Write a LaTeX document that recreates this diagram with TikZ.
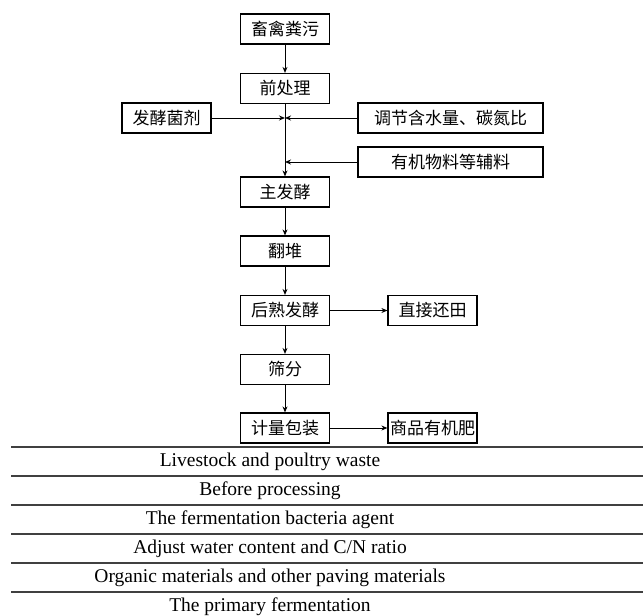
\documentclass[tikz,border=0pt]{standalone}
\usepackage{fontspec}
\setmainfont{Liberation Serif}
\newfontfamily\cjk{Noto Sans CJK SC}
\usetikzlibrary{arrows.meta}

\tikzset{
    boite/.style={draw, line width=1.2pt, minimum height=30pt, inner sep=0pt,
        font=\cjk\fontsize{17}{20}\selectfont},
    etroite/.style={boite, minimum width=89pt},
    large/.style={boite, minimum width=185pt},
    fleche/.style={line width=1pt, -{Stealth[length=6pt,width=5pt]}},
    rangee/.style={inner sep=0pt, font=\fontsize{19.5}{22}\selectfont}
}

\begin{document}
\begin{tikzpicture}[x=1pt,y=1pt]
    \useasboundingbox (0,0) rectangle (643,-616);

    % Définition des étapes
    \node[etroite] (P1) at (285,-29) {畜禽粪污};
    \node[etroite] (P2) at (285,-88.5) {前处理};
    \node[etroite] (P3) at (285,-192) {主发酵};
    \node[etroite] (P4) at (285,-251) {翻堆};
    \node[etroite] (P5) at (285,-310.5) {后熟发酵};
    \node[etroite] (P6) at (285,-369.5) {筛分};
    \node[etroite] (P7) at (285,-428) {计量包装};

    % Entrées et sorties latérales
    \node[etroite] (E1) at (166.5,-118) {发酵菌剂};
    \node[large] (E2) at (450.5,-118) {调节含水量、碳氮比};
    \node[large] (E3) at (450.5,-162) {有机物料等辅料};
    \node[etroite] (S1) at (432.5,-310.5) {直接还田};
    \node[etroite] (S2) at (432.5,-428) {商品有机肥};

    % Points de jonction
    \coordinate (J1) at (285,-118);
    \coordinate (J2) at (285,-162);

    % Dessin des flèches
    \draw[fleche] (P1) -- (P2);
    \draw[fleche] (P2) -- (P3);
    \draw[fleche] (E1) -- (J1);
    \draw[fleche] (E2) -- (J1);
    \draw[fleche] (E3) -- (J2);
    \draw[fleche] (P3) -- (P4);
    \draw[fleche] (P4) -- (P5);
    \draw[fleche] (P5) -- (P6);
    \draw[fleche] (P6) -- (P7);
    \draw[fleche] (P5) -- (S1);
    \draw[fleche] (P7) -- (S2);

    % Tableau des traductions
    \foreach \y in {447,476,505,534,563,592} {
        \draw[line width=1.5pt, black!75] (11,-\y) -- (643,-\y);
    }
    \foreach \t [count=\i] in {Livestock and poultry waste, Before processing,
        The fermentation bacteria agent, Adjust water content and C/N ratio,
        Organic materials and other paving materials, The primary fermentation} {
        \node[rangee] (T\i) at (270,{-461.5-29*(\i-1)}) {\t};
    }

\end{tikzpicture}
\end{document}
